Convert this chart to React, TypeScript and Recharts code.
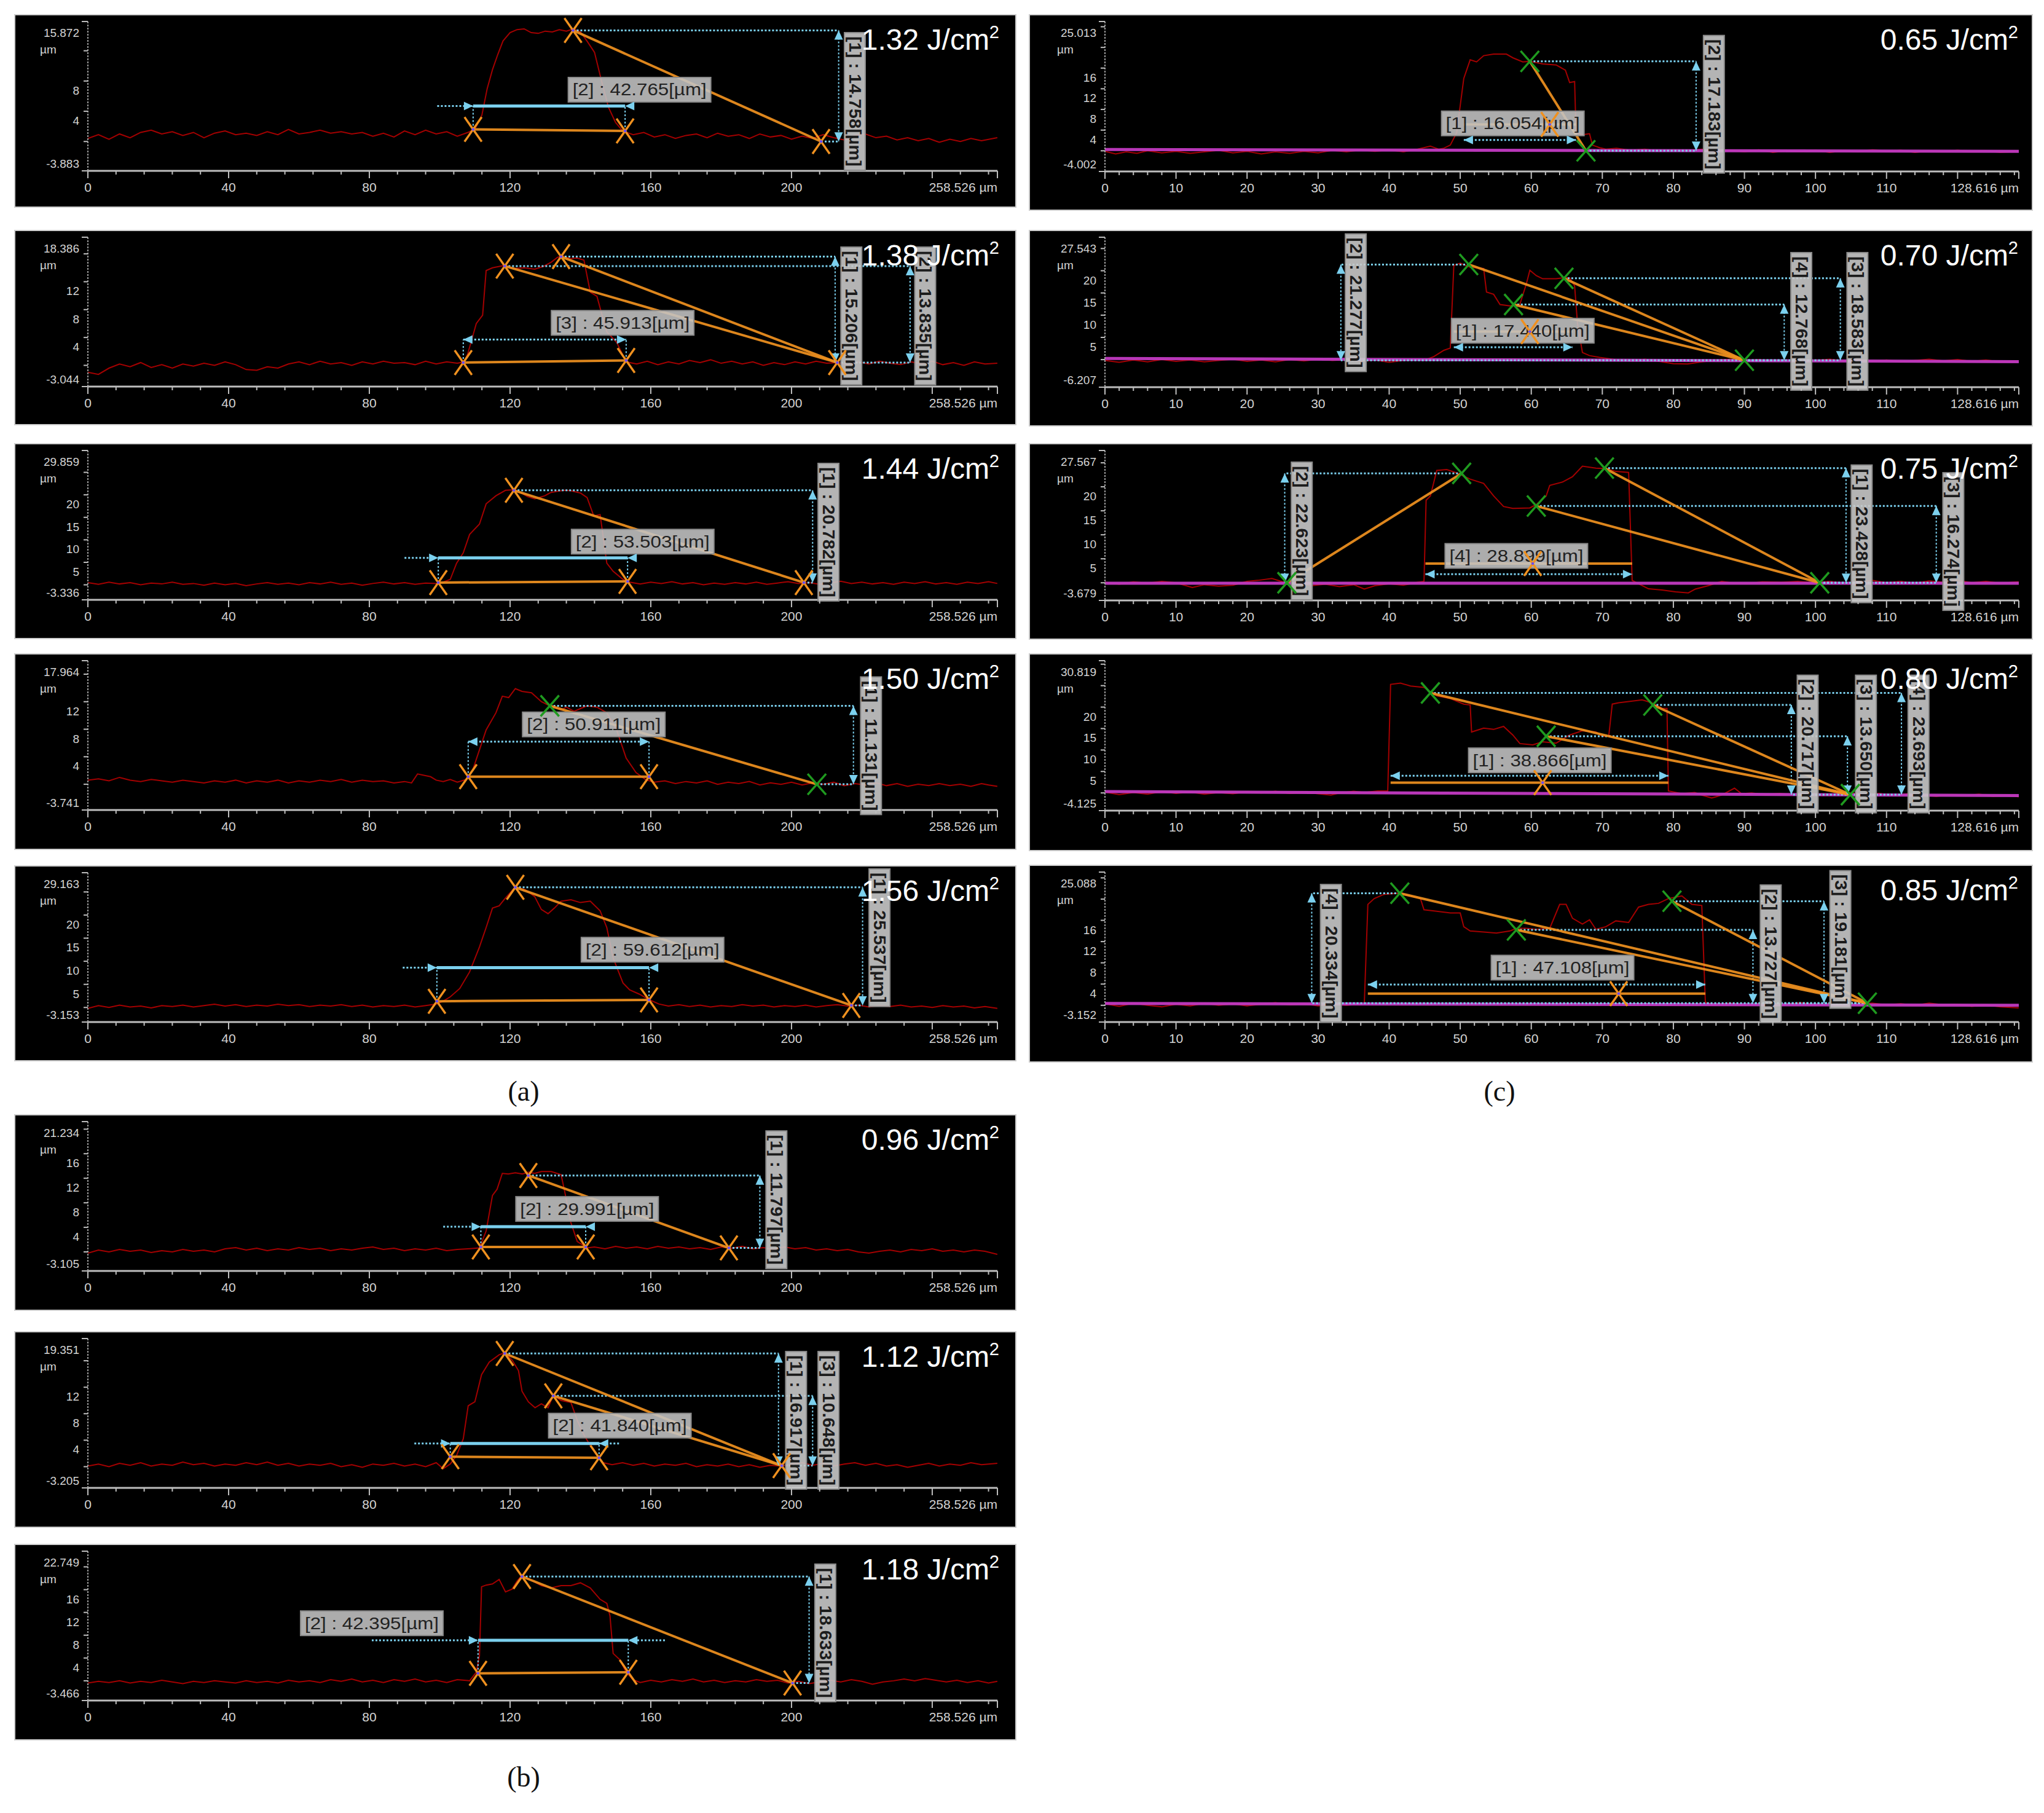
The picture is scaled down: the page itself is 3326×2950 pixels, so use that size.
import React from 'react';
import { ComposedChart, Line, XAxis, YAxis, ReferenceLine, ReferenceDot } from 'recharts';

type P = [number, number];
interface Height { t: P; b: P; ax: number; bx: number; by: number; text: string }
interface Width { l: P; r: P; ay: number; ext?: [number, number]; mid?: number; bx: number; by: number; text: string }

const FONT = '"Liberation Sans", Arial, sans-serif';
const FONT_N = '"Liberation Sans Narrow", "Arial Narrow", "Liberation Sans", Arial, sans-serif';

// ---------- axis ticks ----------
const xEndA = 258.526;
const xEndC = 128.616;
const xTicksA: number[] = [...Array.from({ length: 33 }, (_, i) => i * 8), xEndA];
const xTicksC: number[] = [...Array.from({ length: 65 }, (_, i) => i * 2), xEndC];
const xLabA = [0, 40, 80, 120, 160, 200];
const xMajA = [0, 40, 80, 120, 160, 200, 240];
const xLabC = [0, 10, 20, 30, 40, 50, 60, 70, 80, 90, 100, 110];
const xMajC = [...xLabC, 120];

// ---------- (a) 1.32 ----------
const prof132: P[] = [[0,0.4],[3,0.9],[6,0.3],[9,1.0],[12,0.5],[15,1.2],[18,1.5],[21,1.0],[24,1.3],[27,0.8],[30,1.2],[33,0.5],[36,1.1],[39,1.4],[42,0.9],[45,1.1],[48,0.8],[51,1.3],[54,0.9],[57,1.6],[60,1.0],[63,1.2],[66,1.5],[69,1.1],[72,1.3],[75,1.0],[78,1.2],[81,0.7],[84,1.1],[87,0.6],[90,1.4],[93,0.9],[96,1.5],[99,1.0],[102,1.3],[105,0.7],[108,1.2],[110,1.6],[112,3.5],[113.5,7.0],[115,9.5],[116.5,11.5],[118,13.3],[120,14.4],[122,14.8],[124,14.9],[126,14.4],[128,14.3],[130,14.6],[132,14.5],[134,14.8],[136,14.6],[138,14.9],[140,14.5],[142,13.2],[144,11.8],[146,8.0],[148,4.5],[150,2.5],[152,1.4],[155,0.9],[158,1.2],[161,0.6],[164,0.9],[167,0.4],[170,0.8],[173,1.0],[176,0.5],[179,1.1],[182,0.7],[185,0.9],[188,0.4],[191,1.0],[194,0.6],[197,0.8],[200,0.3],[203,0.7],[206,0.4],[209,0.9],[212,0.5],[215,0.2],[218,0.8],[221,1.0],[224,0.5],[227,0.7],[230,0.2],[233,0.5],[236,0.1],[239,0.4],[242,-0.1],[245,0.3],[248,0.0],[251,0.4],[254,0.1],[258.5,0.5]];
const heights132: Height[] = [{ t: [137.9, 14.7], b: [208.4, 0.0], ax: 213.4, bx: 218, by: 5.3, text: '[1] : 14.758[µm]' }];
const widths132: Width[] = [{ l: [109.5, 1.6], r: [152.7, 1.4], ay: 4.7, ext: [99.3, 152.7], bx: 156.8, by: 6.85, text: '[2] : 42.765[µm]' }];

// ---------- (a) 1.38 ----------
const prof138: P[] = [[0,-1.0],[3,-1.3],[6,-0.4],[9,0.2],[12,-0.2],[15,0.4],[18,-0.3],[21,0.1],[24,-0.4],[27,0.2],[30,-0.1],[33,0.3],[36,0.0],[39,0.5],[42,0.1],[45,-0.6],[48,-0.7],[51,-0.2],[54,-0.4],[57,0.2],[60,0.5],[63,0.1],[66,0.6],[69,0.2],[72,0.4],[75,0.0],[78,0.5],[81,0.2],[84,0.6],[87,0.3],[90,0.4],[93,0.1],[96,0.6],[99,0.2],[102,0.5],[105,0.3],[107,0.5],[108,1.7],[110.4,6.0],[112.2,7.2],[113.2,13.6],[115,14.0],[118,14.3],[121.5,13.9],[124,14.0],[127,13.8],[129.5,14.2],[131.7,14.8],[133.5,15.5],[135,15.7],[137,15.3],[139,15.4],[141,15.1],[142.8,10.5],[144.7,9.9],[146,7.5],[147.5,4.8],[150.3,3.3],[153,0.5],[156,0.2],[159,0.6],[162,0.1],[165,0.5],[168,0.2],[171,0.7],[174,0.4],[177,0.8],[180,0.3],[183,0.6],[186,0.2],[189,0.5],[192,0.0],[195,0.4],[198,0.1],[201,0.5],[204,0.2],[207,0.6],[210,0.3],[213,0.4],[216,0.1],[219,0.5],[222,0.2],[225,0.6],[228,0.3],[231,0.1],[234,0.5],[237,0.2],[240,0.6],[243,0.1],[246,0.4],[249,0.0],[252,0.5],[255,0.2],[258.5,0.3]];
const heights138: Height[] = [
  { t: [134.5, 15.6], b: [213, 0.4], ax: 212.4, bx: 217, by: 7.1, text: '[1] : 15.206[µm]' },
  { t: [118.5, 14.25], b: [213, 0.4], ax: 233.7, bx: 238, by: 7.1, text: '[2] : 13.835[µm]' },
];
const widths138: Width[] = [{ l: [106.7, 0.4], r: [153, 0.7], ay: 3.7, bx: 152, by: 6.1, text: '[3] : 45.913[µm]' }];

// ---------- (a) 1.44 ----------
const prof144: P[] = [[0,0.5],[3,0.1],[6,0.6],[9,0.2],[12,0.5],[15,0.0],[18,0.4],[21,0.2],[24,0.6],[27,0.1],[30,0.3],[33,-0.1],[36,0.4],[39,0.0],[42,0.3],[45,-0.2],[48,0.2],[51,0.5],[54,0.1],[57,0.4],[60,0.0],[63,0.5],[66,0.2],[69,0.6],[72,0.1],[75,0.4],[78,-0.1],[81,0.3],[84,0.6],[87,0.2],[90,0.5],[93,0.1],[96,0.4],[99,0.3],[101,0.6],[103,1.2],[104.8,4.8],[106.7,7.1],[108.5,11.2],[111.3,13.5],[113.2,18.0],[116,19.8],[118.7,21.0],[121.1,21.1],[123.4,20.3],[125,19.6],[127,19.1],[129.9,19.8],[131.5,20.5],[133.6,20.8],[135.5,21.0],[137.3,20.9],[140,20.4],[141.9,19.4],[143.8,15.3],[145.6,15.6],[147.5,4.8],[149.3,3.0],[152.1,1.2],[154,0.6],[157,0.2],[160,0.6],[163,0.3],[166,0.7],[169,0.2],[172,0.5],[175,0.0],[178,0.4],[181,0.1],[184,0.5],[187,0.2],[190,0.6],[193,0.1],[196,0.4],[199,0.7],[202,0.3],[205,0.5],[208,0.1],[211,0.4],[214,0.8],[217,0.3],[220,0.6],[223,0.2],[226,0.5],[229,0.1],[232,0.6],[235,0.3],[238,0.7],[241,0.2],[244,0.5],[247,0.1],[250,0.6],[253,0.3],[256,0.7],[258.5,0.3]];
const heights144: Height[] = [{ t: [121.1, 21.0], b: [203.5, 0.5], ax: 206, bx: 210.5, by: 11.7, text: '[1] : 20.782[µm]' }];
const widths144: Width[] = [{ l: [99.6, 0.5], r: [153.4, 0.75], ay: 6.0, ext: [90, 153.4], bx: 157.7, by: 9.6, text: '[2] : 53.503[µm]' }];

// ---------- (a) 1.50 ----------
const prof150: P[] = [[0,0.6],[3,0.8],[6,0.5],[9,1.0],[12,0.6],[15,0.4],[18,0.7],[21,0.5],[24,0.3],[27,0.6],[30,0.4],[33,0.2],[36,0.5],[39,0.3],[42,0.6],[45,0.2],[48,0.5],[51,0.3],[54,0.6],[57,0.2],[60,0.5],[63,0.3],[66,0.6],[69,0.4],[72,0.7],[75,0.3],[78,0.6],[81,0.4],[84,0.5],[87,0.2],[90,0.4],[92,0.2],[93.7,1.5],[95.5,1.3],[97.4,1.1],[99,0.6],[101,0.4],[103,0.7],[105,0.3],[107.6,0.7],[109.4,2.1],[111.3,5.0],[113.2,7.9],[116,10.4],[117.8,12.8],[119.6,12.6],[121.5,13.9],[123.4,13.5],[126.1,13.3],[128.9,12.0],[131.3,11.4],[134.5,10.8],[136,11.2],[138.2,10.6],[140,11.0],[141.9,11.4],[144.7,11.2],[147.5,10.4],[150.3,7.9],[153,3.8],[155.8,1.7],[158.6,0.65],[161,0.3],[164,0.5],[167,0.1],[170,0.4],[173,0.2],[176,0.5],[179,0.0],[182,0.3],[185,0.1],[188,0.4],[191,-0.1],[194,0.2],[197,0.0],[200,0.3],[203,-0.1],[206,0.2],[209,0.0],[212,0.3],[215,-0.2],[218,0.1],[221,-0.1],[224,0.2],[227,-0.2],[230,0.1],[233,-0.3],[236,0.0],[239,-0.2],[242,0.1],[245,-0.2],[248,0.0],[251,-0.3],[254,0.1],[256,-0.1],[258.5,-0.3]];
const heights150: Height[] = [{ t: [131.3, 11.4], b: [207.2, 0.0], ax: 217.6, bx: 222.6, by: 5.6, text: '[1] : 11.131[µm]' }];
const widths150: Width[] = [{ l: [108.1, 1.1], r: [159.5, 1.1], ay: 6.2, bx: 143.8, by: 8.7, text: '[2] : 50.911[µm]' }];

// ---------- (a) 1.56 ----------
const prof156: P[] = [[0,-0.2],[3,0.4],[6,0.0],[9,0.5],[12,0.1],[15,0.3],[18,-0.1],[21,0.4],[24,0.2],[27,0.5],[30,0.1],[33,0.4],[36,0.7],[39,0.3],[42,0.6],[45,0.2],[48,0.5],[51,0.3],[54,0.7],[57,0.4],[60,0.6],[63,0.2],[66,0.5],[69,0.3],[72,0.6],[75,0.2],[78,0.5],[81,0.1],[84,0.4],[87,0.2],[90,0.5],[93,0.1],[96,0.4],[99.2,0.75],[101,1.4],[103,2.3],[105.7,4.1],[108.5,7.7],[111.3,13.1],[113.2,17.3],[115,21.5],[116.9,22.0],[118.7,23.7],[121.5,26.1],[124.3,25.5],[127,24.0],[128.9,21.2],[130.8,20.3],[132.6,21.5],[134.5,23.0],[137.3,23.3],[140,22.7],[142.8,23.0],[145.6,20.9],[147.5,17.3],[149.3,10.7],[152.1,5.3],[154,3.8],[156.7,2.9],[159.5,1.7],[162.3,0.75],[165,0.3],[168,0.6],[171,0.2],[174,0.5],[177,0.1],[180,0.4],[183,0.2],[186,0.6],[189,0.3],[192,0.5],[195,0.1],[198,0.4],[201,0.2],[204,0.5],[207,0.1],[210,0.4],[213,0.6],[216,0.3],[219,0.5],[222,0.1],[225,0.4],[228,0.2],[231,0.5],[234,0.1],[237,0.3],[240,0.0],[243,0.4],[246,0.1],[249,0.3],[252,-0.1],[255,0.2],[258.5,-0.2]];
const heights156: Height[] = [{ t: [121.5, 26.0], b: [217, 0.45], ax: 220.2, bx: 225, by: 15.1, text: '[1] : 25.537[µm]' }];
const widths156: Width[] = [{ l: [99.2, 1.35], r: [159.5, 1.65], ay: 8.6, ext: [89.5, 159.5], bx: 160.5, by: 12.5, text: '[2] : 59.612[µm]' }];

// ---------- (b) 0.96 ----------
const prof096: P[] = [[0,-0.2],[3,0.3],[6,0.0],[9,0.4],[12,0.1],[15,0.3],[18,-0.1],[21,0.2],[24,0.0],[27,0.4],[30,0.1],[33,0.3],[36,0.0],[39,0.5],[42,0.7],[45,0.3],[48,0.6],[51,0.2],[54,0.5],[57,0.3],[60,0.7],[63,0.4],[66,0.6],[69,0.2],[72,0.5],[75,0.3],[78,0.6],[81,0.8],[84,0.4],[87,0.6],[90,0.2],[93,0.5],[96,0.3],[99,0.6],[102,0.2],[105,0.4],[108,0.5],[111.3,0.65],[113.2,3.4],[115,9.2],[116.3,10.2],[117.8,12.8],[119.5,12.7],[121.5,12.9],[123.5,12.7],[125.2,13.0],[127,12.8],[128.9,13.1],[131.7,13.1],[134.5,12.6],[135.4,10.2],[137.3,4.75],[139.1,1.7],[141.9,0.65],[144,0.8],[147,0.5],[150,0.9],[153,0.6],[156,0.8],[159,0.5],[162,0.9],[165,0.6],[168,0.8],[171,0.5],[174,0.7],[177,0.4],[180,0.8],[183,0.6],[186,0.9],[189,0.5],[192,0.7],[195,0.4],[198,0.8],[201,0.5],[204,0.7],[207,0.3],[210,0.5],[213,0.2],[216,0.4],[219,0.0],[222,-0.2],[225,0.1],[228,0.3],[231,0.0],[234,0.4],[237,0.2],[240,0.5],[243,0.1],[246,0.3],[249,0.0],[252,0.3],[255,0.1],[258.5,-0.4]];
const heights096: Height[] = [{ t: [125.2, 12.45], b: [182.2, 0.65], ax: 191, bx: 195.7, by: 8.5, text: '[1] : 11.797[µm]' }];
const widths096: Width[] = [{ l: [111.7, 0.8], r: [141.5, 0.8], ay: 4.1, ext: [101, 141.5], bx: 141.9, by: 7.0, text: '[2] : 29.991[µm]' }];

// ---------- (b) 1.12 ----------
const prof112: P[] = [[0,0.1],[3,0.4],[6,0.0],[9,0.5],[12,0.2],[15,0.6],[18,0.1],[21,0.4],[24,0.2],[27,0.7],[30,0.3],[33,0.5],[36,0.1],[39,0.4],[42,0.2],[45,0.6],[48,0.3],[51,0.7],[54,0.2],[57,0.5],[60,0.1],[63,0.4],[66,0.2],[69,0.5],[72,0.0],[75,0.3],[78,-0.1],[81,0.4],[84,0.2],[87,0.5],[90,0.1],[93,0.4],[96,0.0],[99,0.6],[101,-0.3],[103,0.4],[104.8,1.7],[106.7,4.2],[108.1,9.2],[110,9.8],[111.9,13.9],[114.1,15.8],[116.9,16.9],[118.5,17.2],[120.6,16.1],[122.4,14.5],[123.4,11.4],[125.2,9.8],[127.1,8.9],[128.9,9.5],[130.8,8.9],[132.3,10.8],[134.5,10.0],[137.3,9.7],[139.1,7.0],[141,4.8],[142.8,3.2],[144.7,1.7],[146.5,0.6],[149,0.3],[152,0.6],[155,0.2],[158,0.5],[161,0.1],[164,0.4],[167,0.2],[170,0.5],[173,0.0],[176,0.3],[179,0.1],[182,0.4],[185,0.0],[188,0.3],[191,-0.1],[194,0.2],[197,0.1],[200,0.4],[203,0.6],[206,0.2],[209,0.5],[212,0.1],[215,0.4],[218,0.6],[221,0.2],[224,0.5],[227,0.1],[230,0.3],[233,-0.1],[236,0.2],[239,0.5],[242,0.1],[245,0.4],[248,0.2],[251,0.6],[254,0.3],[258.5,0.5]];
const heights112: Height[] = [
  { t: [118.5, 17.1], b: [197.2, 0.15], ax: 196.3, bx: 201.3, by: 7.0, text: '[1] : 16.917[µm]' },
  { t: [132.3, 10.7], b: [197.2, 0.15], ax: 206, bx: 210.5, by: 7.0, text: '[3] : 10.648[µm]' },
];
const widths112: Width[] = [{ l: [103, 1.5], r: [145.3, 1.35], ay: 3.5, ext: [92.8, 151.2], bx: 151.2, by: 6.2, text: '[2] : 41.840[µm]' }];

// ---------- (b) 1.18 ----------
const prof118: P[] = [[0,-0.4],[3,-0.1],[6,-0.3],[9,0.0],[12,-0.4],[15,-0.1],[18,-0.3],[21,0.1],[24,-0.2],[27,-0.5],[30,-0.1],[33,-0.3],[36,0.0],[39,-0.2],[42,-0.4],[45,0.0],[48,-0.3],[51,-0.1],[54,-0.4],[57,0.1],[60,-0.2],[63,0.0],[66,-0.3],[69,0.2],[72,-0.1],[75,0.3],[78,-0.2],[81,0.1],[84,-0.3],[87,0.2],[90,-0.1],[93,0.3],[96,-0.2],[99,0.1],[102,-0.3],[105,0.2],[108.5,0.0],[110.4,1.5],[111.3,4.4],[111.9,16.5],[113.2,16.8],[115,17.0],[116.9,17.8],[118.7,15.6],[120.6,16.1],[122,17.5],[123.4,18.5],[126.1,17.6],[128.9,16.7],[131.7,16.3],[134.5,16.7],[137.3,16.7],[140,17.2],[142.8,16.3],[145.6,14.3],[147.5,13.6],[148.4,11.4],[149.3,4.8],[151.2,3.7],[153,1.5],[154.9,0.2],[157,-0.3],[160,0.1],[163,-0.2],[166,0.2],[169,-0.1],[172,0.3],[175,-0.2],[178,0.1],[181,-0.3],[184,0.0],[187,-0.2],[190,0.2],[193,-0.1],[196,0.1],[199,-0.4],[202,-0.1],[205,-0.5],[208,-0.2],[211,0.1],[214,-0.2],[217,0.2],[220,-0.1],[223,-0.6],[226,-0.2],[229,0.0],[232,0.3],[235,0.0],[238,0.4],[241,0.1],[244,-0.2],[247,0.1],[250,-0.3],[253,0.0],[256,-0.4],[258.5,-0.1]];
const heights118: Height[] = [{ t: [123.4, 18.3], b: [200.3, -0.4], ax: 205, bx: 209.6, by: 8.4, text: '[1] : 18.633[µm]' }];
const widths118: Width[] = [{ l: [110.9, 1.3], r: [153.6, 1.5], ay: 7.1, ext: [80.7, 164.2], bx: 80.7, by: 10.1, text: '[2] : 42.395[µm]' }];

// ---------- (c) 0.65 ----------
const prof065: P[] = [[0,-0.1],[1.5,-0.6],[3,-0.2],[4.5,-0.5],[6,0.0],[8,-0.4],[10,-0.1],[12,-0.5],[14,-0.2],[16,0.1],[18,-0.4],[20,-0.1],[22,-0.6],[24,-0.2],[26,-0.5],[28,-0.1],[30,-0.4],[32,0.1],[34,-0.2],[36,0.2],[38,-0.1],[40,0.2],[42,-0.2],[44,0.3],[45.8,0.9],[47,0.3],[47.7,0.5],[48.6,1.1],[49.5,3.5],[50.5,14.0],[51.4,17.6],[52.3,17.2],[53.3,18.4],[54.7,18.7],[56.5,18.7],[57.4,18.0],[58.8,17.2],[59.8,17.3],[61.6,16.8],[63.5,16.6],[64.8,15.6],[65.4,13.2],[66.1,13.4],[66.3,3.5],[67.2,3.1],[68.2,3.3],[68.6,1.1],[69.6,0.6],[70.5,0.3],[72,0.5],[74,0.1],[76,0.3],[78,-0.1],[80,0.2],[82,0.0],[84,0.3],[86,-0.1],[88,0.1],[90,-0.2],[92,0.2],[94,-0.3],[96,0.0],[98,-0.2],[100,0.1],[102,-0.3],[104,0.0],[106,-0.2],[108,0.2],[110,-0.1],[112,0.1],[114,-0.3],[116,0.0],[118,-0.2],[120,0.1],[122,-0.2],[124,0.0],[126,-0.3],[128.6,-0.1]];
const heights065: Height[] = [{ t: [59.8, 17.3], b: [67.7, 0.0], ax: 83.2, bx: 85.7, by: 9.0, text: '[2] : 17.183[µm]' }];
const widths065: Width[] = [{ l: [50.5, 5.1], r: [66.3, 5.1], ay: 2.1, mid: 62.6, bx: 57.4, by: 5.3, text: '[1] : 16.054[µm]' }];
const base065: P[] = [[0, 0.25], [xEndC, -0.1]];

// ---------- (c) 0.70 ----------
const prof070: P[] = [[0,-0.2],[2,-0.6],[4,-0.1],[6,-0.5],[8,0.0],[10,-0.4],[12,-0.1],[14,-0.5],[16,-0.2],[18,0.1],[20,-0.4],[22,-0.1],[24,-0.5],[26,0.0],[28,-0.3],[30,0.1],[32,-0.2],[34,0.0],[36,-0.4],[38,-0.1],[40,-0.6],[42,-0.2],[44,0.0],[44.9,-0.2],[46.3,0.7],[47.7,2.1],[48.6,2.6],[49.1,21.2],[50,21.7],[51.4,20.8],[53.3,20.5],[53.7,15.2],[54.7,14.7],[55.6,12.4],[57,12.1],[58.4,12.5],[59.3,17.0],[59.8,20.1],[60.7,18.9],[61.6,18.2],[63.5,18.2],[64.4,18.4],[65.4,18.4],[66.1,16.6],[66.5,8.2],[67.2,1.6],[68.2,0.9],[69.6,0.5],[71.9,0.0],[74,-0.3],[76,0.1],[78,-0.4],[80,-0.9],[82,-1.0],[84,-0.5],[86,-0.2],[88,0.1],[90,-0.3],[92,0.0],[94,-0.4],[96,-0.1],[98,-0.5],[100,-0.2],[102,0.1],[104,-0.3],[106,0.0],[108,-0.4],[110,-0.1],[112,-0.5],[114,-0.2],[116,0.1],[118,-0.3],[120,0.0],[122,-0.4],[124,-0.1],[126,-0.5],[128.6,-0.3]];
const heights070: Height[] = [
  { t: [51.2, 21.4], b: [90, -0.15], ax: 33.2, bx: 35.3, by: 12.8, text: '[2] : 21.277[µm]' },
  { t: [57.5, 12.4], b: [90, -0.15], ax: 95.6, bx: 98, by: 8.6, text: '[4] : 12.768[µm]' },
  { t: [64.6, 18.3], b: [90, -0.15], ax: 103.5, bx: 105.9, by: 8.6, text: '[3] : 18.583[µm]' },
];
const widths070: Width[] = [{ l: [49.1, 6.3], r: [65.8, 6.3], ay: 2.8, mid: 59.8, bx: 58.8, by: 6.5, text: '[1] : 17.440[µm]' }];
const base070: P[] = [[0, 0.25], [xEndC, -0.45]];

// ---------- (c) 0.75 ----------
const prof075: P[] = [[0,0.1],[2,-0.3],[4,0.2],[6,-0.1],[8,0.3],[10,0.0],[12.3,-1.0],[14,-0.4],[16,-0.7],[18,-0.5],[20,0.3],[21.5,0.5],[23.5,0.9],[25,0.2],[27,0.0],[29,-0.6],[31,-0.3],[33,-0.8],[35,-0.4],[36.5,-1.3],[38,-0.6],[40,-0.2],[42,-0.5],[44,0.1],[44.9,0.3],[45.2,17.2],[45.8,18.1],[46.7,23.4],[48.1,23.6],[49.5,22.9],[51.4,21.6],[53.3,20.7],[54.7,18.1],[56.1,15.9],[57.4,15.5],[59.8,15.6],[60.7,16.3],[62.1,18.1],[62.6,20.3],[64.4,21.0],[65.8,22.1],[67.2,24.3],[69.1,23.9],[70.5,23.8],[71.9,23.2],[73.7,23.0],[74.2,0.5],[75.1,-0.2],[76.5,-1.25],[78.4,-1.5],[80.3,-1.9],[82.1,-2.1],[83.1,-1.3],[84.9,-0.6],[86.8,0.3],[88.5,-0.1],[90.5,-0.2],[92.5,0.2],[95.2,0.1],[97.5,0.3],[99.8,0.0],[102,0.3],[104,-0.1],[106,0.2],[108,0.5],[110,0.0],[112,0.3],[114,-0.1],[116,0.4],[118,0.1],[120,0.5],[122,0.0],[124,0.3],[126,-0.1],[128.6,0.2]];
const heights075: Height[] = [
  { t: [50.2, 22.8], b: [25.6, 0.0], ax: 25.3, bx: 27.7, by: 10.8, text: '[2] : 22.623[µm]' },
  { t: [70.3, 23.9], b: [100.6, 0.0], ax: 104.3, bx: 106.5, by: 10.2, text: '[1] : 23.428[µm]' },
  { t: [60.7, 16.0], b: [100.6, 0.0], ax: 117, bx: 119.4, by: 8.6, text: '[3] : 16.274[µm]' },
];
const widths075: Width[] = [{ l: [45.1, 4.0], r: [74.2, 4.0], ay: 1.8, mid: 60.2, bx: 57.9, by: 5.6, text: '[4] : 28.899[µm]' }];
const base075: P[] = [[0, -0.1], [xEndC, -0.1]];

// ---------- (c) 0.80 ----------
const prof080: P[] = [[0,0.2],[2,-0.4],[4,0.1],[6,-0.3],[8,0.3],[10,-0.1],[12,0.2],[14,-0.3],[16,0.1],[18,-0.2],[20,0.3],[22,0.0],[24,0.4],[26,-0.1],[28,0.2],[30,-0.2],[31.8,-0.5],[33,0.0],[35,0.4],[36.5,0.1],[38.4,0.45],[39.8,0.45],[40.2,25.3],[41.6,25.6],[43,24.9],[44.9,24.6],[46.7,22.6],[48.6,22.0],[50.5,20.7],[51.4,20.5],[51.6,14.2],[53.3,15.1],[54.7,14.8],[56.1,15.5],[57.4,13.5],[58.4,11.5],[60.2,11.2],[61.6,11.9],[63.5,11.6],[65.4,13.5],[67.2,14.5],[69.1,14.2],[70,13.2],[70.9,13.2],[71.4,20.7],[72.3,21.0],[73.7,21.3],[75.6,21.7],[77,21.0],[78.4,19.7],[79.1,19.7],[79.3,0.45],[81.2,-0.2],[83,0.1],[84,-0.5],[85.4,-1.2],[86.8,-0.5],[88.6,1.1],[89.6,-0.2],[91,0.0],[93,-0.4],[95,-0.1],[97,-0.5],[99,-0.2],[101,-0.6],[103,-0.3],[105,0.0],[107,-0.4],[109,-0.1],[111,-0.6],[113,-0.2],[115,-0.5],[117,-0.8],[119,-0.4],[121,-0.7],[123,-0.3],[125,-0.8],[127,-0.5],[128.6,-0.9]];
const heights080: Height[] = [
  { t: [77.1, 20.5], b: [104.9, -0.4], ax: 96.6, bx: 98.9, by: 11.4, text: '[2] : 20.717[µm]' },
  { t: [62.1, 13.2], b: [104.9, -0.4], ax: 104.5, bx: 107.1, by: 11.4, text: '[3] : 13.650[µm]' },
  { t: [45.8, 23.3], b: [104.9, -0.4], ax: 112.1, bx: 114.5, by: 11.4, text: '[4] : 23.693[µm]' },
];
const widths080: Width[] = [{ l: [40.2, 2.4], r: [79.3, 2.4], ay: 4.0, mid: 61.6, bx: 61.2, by: 7.6, text: '[1] : 38.866[µm]' }];
const base080: P[] = [[0, 0.3], [xEndC, -0.6]];

// ---------- (c) 0.85 ----------
const prof085: P[] = [[0,0.3],[2,-0.2],[4,0.4],[6,0.0],[8,-0.3],[10,0.2],[12,-0.1],[14,0.4],[16,0.0],[18,0.3],[20,-0.1],[22,0.2],[24,0.5],[26,0.1],[28,0.3],[30,-0.1],[32,0.2],[34,0.0],[36.5,0.3],[37,19.0],[37.9,20.1],[39.3,20.9],[41.2,21.1],[43,20.6],[44.4,20.1],[44.9,18.0],[46.7,17.7],[48.6,17.4],[50,17.4],[50.5,14.8],[51.4,14.0],[53.3,13.8],[55.1,13.6],[57,14.0],[57.9,14.5],[59.3,14.5],[60.7,14.3],[62.6,14.5],[64,19.0],[64.9,19.0],[65.8,16.4],[67.2,15.3],[68.2,16.1],[69.1,14.3],[70.5,14.8],[71.9,15.9],[73.7,15.6],[75.1,18.5],[76.5,19.0],[77.9,19.2],[79.3,20.1],[81.2,20.6],[82.6,19.0],[84,18.8],[84.5,0.55],[85.8,0.1],[88,0.4],[90,0.0],[92,0.3],[94,-0.1],[96,0.2],[98,0.5],[100,0.1],[102,0.3],[104,-0.1],[106,0.2],[108,0.4],[110,0.1],[112,0.3],[114,0.0],[116,0.4],[118,0.1],[120,0.2],[122,-0.2],[124,0.1],[126,-0.3],[128.6,-0.5]];
const heights085: Height[] = [
  { t: [41.5, 21.1], b: [107.3, 0.4], ax: 29.1, bx: 31.8, by: 9.8, text: '[4] : 20.334[µm]' },
  { t: [57.9, 14.2], b: [107.3, 0.4], ax: 91.2, bx: 93.7, by: 9.7, text: '[2] : 13.727[µm]' },
  { t: [79.8, 19.6], b: [107.3, 0.4], ax: 101.2, bx: 103.5, by: 12.4, text: '[3] : 19.181[µm]' },
];
const widths085: Width[] = [{ l: [37, 2.2], r: [84.5, 2.2], ay: 3.9, mid: 72.3, bx: 64.4, by: 7.1, text: '[1] : 47.108[µm]' }];
const base085: P[] = [[0, 0.35], [xEndC, 0.0]];

// ---------- panel list ----------
interface PanelDef {
  energy: string; kind: 'a' | 'c'; pos: [number, number, number, number];
  prof: P[]; dom: [number, number]; yt: number[]; yl: number[];
  hs: Height[]; ws: Width[]; hc: 'o' | 'g'; inward: boolean; solid: boolean; base?: P[];
}

const panels: PanelDef[] = [
  { energy: '1.32', kind: 'a', pos: [25, 25, 1627, 311], prof: prof132, dom: [-3.883, 15.872], yt: [0, 4, 8, 12], yl: [4, 8], hs: heights132, ws: widths132, hc: 'o', inward: true, solid: true },
  { energy: '1.38', kind: 'a', pos: [25, 376, 1627, 314], prof: prof138, dom: [-3.044, 18.386], yt: [0, 4, 8, 12, 16], yl: [4, 8, 12], hs: heights138, ws: widths138, hc: 'o', inward: false, solid: false },
  { energy: '1.44', kind: 'a', pos: [25, 723, 1627, 315], prof: prof144, dom: [-3.336, 29.859], yt: [0, 5, 10, 15, 20, 25], yl: [5, 10, 15, 20], hs: heights144, ws: widths144, hc: 'o', inward: true, solid: true },
  { energy: '1.50', kind: 'a', pos: [25, 1065, 1627, 316], prof: prof150, dom: [-3.741, 17.964], yt: [0, 4, 8, 12, 16], yl: [4, 8, 12], hs: heights150, ws: widths150, hc: 'g', inward: false, solid: false },
  { energy: '1.56', kind: 'a', pos: [25, 1410, 1627, 315], prof: prof156, dom: [-3.153, 29.163], yt: [0, 5, 10, 15, 20, 25], yl: [5, 10, 15, 20], hs: heights156, ws: widths156, hc: 'o', inward: true, solid: true },
  { energy: '0.96', kind: 'a', pos: [25, 1815, 1627, 316], prof: prof096, dom: [-3.105, 21.234], yt: [0, 4, 8, 12, 16, 20], yl: [4, 8, 12, 16], hs: heights096, ws: widths096, hc: 'o', inward: true, solid: true },
  { energy: '1.12', kind: 'a', pos: [25, 2168, 1627, 316], prof: prof112, dom: [-3.205, 19.351], yt: [0, 4, 8, 12, 16], yl: [4, 8, 12], hs: heights112, ws: widths112, hc: 'o', inward: true, solid: true },
  { energy: '1.18', kind: 'a', pos: [25, 2514, 1627, 316], prof: prof118, dom: [-3.466, 22.749], yt: [0, 4, 8, 12, 16, 20], yl: [4, 8, 12, 16], hs: heights118, ws: widths118, hc: 'o', inward: true, solid: true },
  { energy: '0.65', kind: 'c', pos: [1676, 25, 1630, 316], prof: prof065, dom: [-4.002, 25.013], yt: [0, 4, 8, 12, 16, 20, 24], yl: [4, 8, 12, 16], hs: heights065, ws: widths065, hc: 'g', inward: false, solid: false, base: base065 },
  { energy: '0.70', kind: 'c', pos: [1676, 376, 1630, 316], prof: prof070, dom: [-6.207, 27.543], yt: [0, 5, 10, 15, 20, 25], yl: [5, 10, 15, 20], hs: heights070, ws: widths070, hc: 'g', inward: false, solid: false, base: base070 },
  { energy: '0.75', kind: 'c', pos: [1676, 723, 1630, 316], prof: prof075, dom: [-3.679, 27.567], yt: [0, 5, 10, 15, 20, 25], yl: [5, 10, 15, 20], hs: heights075, ws: widths075, hc: 'g', inward: false, solid: false, base: base075 },
  { energy: '0.80', kind: 'c', pos: [1676, 1065, 1630, 318], prof: prof080, dom: [-4.125, 30.819], yt: [0, 5, 10, 15, 20, 25, 30], yl: [5, 10, 15, 20], hs: heights080, ws: widths080, hc: 'g', inward: false, solid: false, base: base080 },
  { energy: '0.85', kind: 'c', pos: [1676, 1409, 1630, 318], prof: prof085, dom: [-3.152, 25.088], yt: [0, 4, 8, 12, 16, 20, 24], yl: [4, 8, 12, 16], hs: heights085, ws: widths085, hc: 'g', inward: false, solid: false, base: base085 },
];

const captions: { t: string; x: number; y: number }[] = [
  { t: '(a)', x: 852, y: 1776 },
  { t: '(c)', x: 2440, y: 1776 },
  { t: '(b)', x: 852, y: 2892 },
];

// ---------- colours ----------
const RED = '#a30000';
const ORANGE = '#f0911f';
const GREEN = '#1f9a1f';
const CYAN = '#7bd0ee';
const MAGENTA = '#c23ac2';
const AXIS = '#bdbdbd';
const TICKTXT = '#d4d4d4';

// ---------- shapes ----------
const xMark = (color: string, big: boolean) => (p: any) => {
  const { cx, cy } = p;
  const w = big ? 14 : 15;
  const h = big ? 20 : 17;
  return (
    <g>
      <line x1={cx - w} y1={cy - h} x2={cx + w} y2={cy + h} stroke={color} strokeWidth={3.5} />
      <line x1={cx + w} y1={cy - h} x2={cx - w} y2={cy + h} stroke={color} strokeWidth={3.5} />
      {big && <circle cx={cx} cy={cy} r={2.2} fill="#6a4cff" />}
    </g>
  );
};

const tri = (dir: 'l' | 'r' | 'u' | 'd') => (p: any) => {
  const { cx, cy } = p;
  const L = 15, H = 7;
  let pts = '';
  if (dir === 'r') pts = `${cx},${cy} ${cx - L},${cy - H} ${cx - L},${cy + H}`;
  if (dir === 'l') pts = `${cx},${cy} ${cx + L},${cy - H} ${cx + L},${cy + H}`;
  if (dir === 'u') pts = `${cx},${cy} ${cx - H},${cy + L} ${cx + H},${cy + L}`;
  if (dir === 'd') pts = `${cx},${cy} ${cx - H},${cy - L} ${cx + H},${cy - L}`;
  return <polygon points={pts} fill={CYAN} />;
};

const vBox = (text: string) => (p: any) => {
  const { cx, cy } = p;
  const len = 224, w = 34;
  return (
    <g>
      <rect x={cx - w / 2} y={cy - len / 2} width={w} height={len} fill="#c8c8c8" fillOpacity={0.9} stroke="#8a8a8a" strokeWidth={2} />
      <text x={cx} y={cy} transform={`rotate(90 ${cx} ${cy})`} textAnchor="middle" dominantBaseline="central"
        fontSize={27} fontWeight="bold" fill="#1c1c1c" fontFamily={FONT_N} textLength={len - 12} lengthAdjust="spacingAndGlyphs">{text}</text>
    </g>
  );
};

const hBox = (text: string) => (p: any) => {
  const { cx, cy } = p;
  const w = 232, h = 40;
  return (
    <g>
      <rect x={cx - w / 2} y={cy - h / 2} width={w} height={h} fill="#c4c4c4" fillOpacity={0.88} stroke="#8a8a8a" strokeWidth={2} />
      <text x={cx} y={cy} textAnchor="middle" dominantBaseline="central" fontSize={28} fill="#222" fontFamily={FONT_N}
        textLength={w - 14} lengthAdjust="spacingAndGlyphs">{text}</text>
    </g>
  );
};

// ---------- tick renderers ----------
const makeXTick = (labs: number[], majors: number[], end: number) => (p: any) => {
  const { x, y, payload } = p;
  const v = payload.value as number;
  const isEnd = Math.abs(v - end) < 1e-6;
  const major = majors.includes(v) || isEnd;
  return (
    <g>
      <line x1={x} x2={x} y1={y} y2={y + (major ? 12 : 6)} stroke={AXIS} strokeWidth={2} />
      {labs.includes(v) && (
        <text x={x} y={y + 34} textAnchor="middle" fontSize={21} fill={TICKTXT} fontFamily={FONT_N}>{v}</text>
      )}
      {isEnd && (
        <text x={x} y={y + 34} textAnchor="end" fontSize={21} fill={TICKTXT} fontFamily={FONT_N}>{`${end} µm`}</text>
      )}
    </g>
  );
};

const makeYTick = (dom: [number, number], labs: number[]) => (p: any) => {
  const { x, y, payload } = p;
  const v = payload.value as number;
  const isTop = v === dom[1];
  const isBot = v === dom[0];
  return (
    <g>
      <line x1={x - (isTop || isBot ? 10 : 7)} x2={x} y1={y} y2={y} stroke={AXIS} strokeWidth={2} />
      {isTop && (
        <text x={x - 14} y={y + 25} textAnchor="end" fontSize={19} fill={TICKTXT} fontFamily={FONT_N}>{v.toFixed(3)}</text>
      )}
      {isTop && (
        <text x={x - 78} y={y + 52} textAnchor="start" fontSize={19} fill={TICKTXT} fontFamily={FONT_N}>µm</text>
      )}
      {isBot && (
        <text x={x - 14} y={y - 5} textAnchor="end" fontSize={19} fill={TICKTXT} fontFamily={FONT_N}>{v.toFixed(3)}</text>
      )}
      {labs.includes(v) && (
        <text x={x - 14} y={y + 22} textAnchor="end" fontSize={19} fill={TICKTXT} fontFamily={FONT_N}>{v}</text>
      )}
    </g>
  );
};

// ---------- panel ----------
function Panel({ d }: { d: PanelDef }) {
  const [L, T, W, H] = d.pos;
  const isA = d.kind === 'a';
  const end = isA ? xEndA : xEndC;
  const plotLeft = isA ? 118 : 122;
  const right = isA ? 29 : 21;
  const plotTop = 10;
  const plotBottom = isA ? 253 : 254;
  const data = d.prof.map(([x, y]) => ({ x, y }));
  const hColor = d.hc === 'g' ? GREEN : ORANGE;

  const els: React.ReactElement[] = [];
  let k = 0;
  const seg = (x1: number, y1: number, x2: number, y2: number, stroke: string, sw: number, dash?: string, op = 1) => {
    els.push(
      <ReferenceLine key={`s${k++}`} segment={[{ x: x1, y: y1 }, { x: x2, y: y2 }]} stroke={stroke} strokeWidth={sw}
        strokeDasharray={dash} strokeOpacity={op} ifOverflow="visible" />
    );
  };
  const dot = (x: number, y: number, shape: any) => {
    els.push(<ReferenceDot key={`d${k++}`} x={x} y={y} r={1} shape={shape} ifOverflow="visible" />);
  };
  const DOT = '3 3';

  // magenta reference baseline
  if (d.base) seg(d.base[0][0], d.base[0][1], d.base[1][0], d.base[1][1], MAGENTA, 5, undefined, 0.95);

  // cyan dimension lines (heights)
  d.hs.forEach((h) => {
    seg(h.t[0], h.t[1], h.ax, h.t[1], CYAN, 3, DOT);
    seg(h.b[0], h.b[1], h.ax, h.b[1], CYAN, 3, DOT);
    seg(h.ax, h.t[1], h.ax, h.b[1], CYAN, 2, DOT);
  });
  // cyan dimension lines (widths)
  d.ws.forEach((w) => {
    if (w.ext) seg(w.ext[0], w.ay, w.ext[1], w.ay, CYAN, 3, DOT);
    if (d.solid) seg(w.l[0], w.ay, w.r[0], w.ay, CYAN, 5);
    else seg(w.l[0], w.ay, w.r[0], w.ay, CYAN, 3, DOT);
    if (isA) {
      seg(w.l[0], w.l[1], w.l[0], w.ay, CYAN, 2, DOT);
      seg(w.r[0], w.r[1], w.r[0], w.ay, CYAN, 2, DOT);
    }
  });

  // label boxes
  d.hs.forEach((h) => dot(h.bx, h.by, vBox(h.text)));
  d.ws.forEach((w) => dot(w.bx, w.by, hBox(w.text)));

  // orange measurement lines
  d.hs.forEach((h) => seg(h.t[0], h.t[1], h.b[0], h.b[1], ORANGE, 4, undefined, 0.92));
  d.ws.forEach((w) => seg(w.l[0], w.l[1], w.r[0], w.r[1], ORANGE, 4, undefined, 0.92));

  // arrow heads
  d.hs.forEach((h) => {
    dot(h.ax, h.t[1], tri('u'));
    dot(h.ax, h.b[1], tri('d'));
  });
  d.ws.forEach((w) => {
    if (d.inward) {
      dot(w.l[0], w.ay, tri('r'));
      dot(w.r[0], w.ay, tri('l'));
    } else {
      dot(w.l[0], w.ay, tri('l'));
      dot(w.r[0], w.ay, tri('r'));
    }
  });

  // markers
  d.ws.forEach((w) => {
    if (w.mid !== undefined) dot(w.mid, w.l[1], xMark(ORANGE, true));
    else {
      dot(w.l[0], w.l[1], xMark(ORANGE, true));
      dot(w.r[0], w.r[1], xMark(ORANGE, true));
    }
  });
  const farDone: string[] = [];
  d.hs.forEach((h) => {
    dot(h.t[0], h.t[1], xMark(hColor, d.hc === 'o'));
    const key = `${h.b[0]}_${h.b[1]}`;
    if (!farDone.includes(key)) {
      farDone.push(key);
      dot(h.b[0], h.b[1], xMark(hColor, d.hc === 'o'));
    }
  });

  const yTicks = [d.dom[0], ...d.yt, d.dom[1]];

  return (
    <div style={{ position: 'absolute', left: L, top: T, width: W, height: H, background: '#000', outline: '2px solid #cdcdcd' }}>
      <ComposedChart width={W} height={H} data={data} margin={{ top: plotTop, right, left: 0, bottom: 0 }}>
        <XAxis dataKey="x" type="number" domain={[0, end]} ticks={isA ? xTicksA : xTicksC} interval={0}
          allowDataOverflow height={H - plotBottom} tickLine={false} tickSize={0} tickMargin={0}
          axisLine={{ stroke: AXIS, strokeWidth: 3 }} tick={makeXTick(isA ? xLabA : xLabC, isA ? xMajA : xMajC, end)} />
        <YAxis type="number" domain={d.dom} ticks={yTicks} interval={0} allowDataOverflow width={plotLeft}
          tickLine={false} tickSize={0} tickMargin={0}
          axisLine={{ stroke: '#9a9a9a', strokeWidth: 2, strokeDasharray: '3 2' }} tick={makeYTick(d.dom, d.yl)} />
        <Line dataKey="y" type="linear" stroke={RED} strokeWidth={2} dot={false} isAnimationActive={false} />
        {els}
      </ComposedChart>
      <div style={{ position: 'absolute', right: isA ? 26 : 22, top: 10, color: '#fff', fontFamily: FONT, fontSize: 48, lineHeight: '60px', whiteSpace: 'nowrap' }}>
        {d.energy} J/cm<span style={{ fontSize: 29, position: 'relative', top: -19 }}>2</span>
      </div>
    </div>
  );
}

export default function App() {
  return (
    <div style={{ position: 'absolute', left: 0, top: 0, width: 3326, height: 2950, background: '#fff', overflow: 'hidden' }}>
      {panels.map((p, i) => (
        <Panel key={i} d={p} />
      ))}
      {captions.map((c) => (
        <div key={c.t} style={{ position: 'absolute', left: c.x - 60, top: c.y - 30, width: 120, textAlign: 'center', fontFamily: '"Liberation Serif", "Times New Roman", serif', fontSize: 46, lineHeight: '60px', color: '#111' }}>
          {c.t}
        </div>
      ))}
    </div>
  );
}
